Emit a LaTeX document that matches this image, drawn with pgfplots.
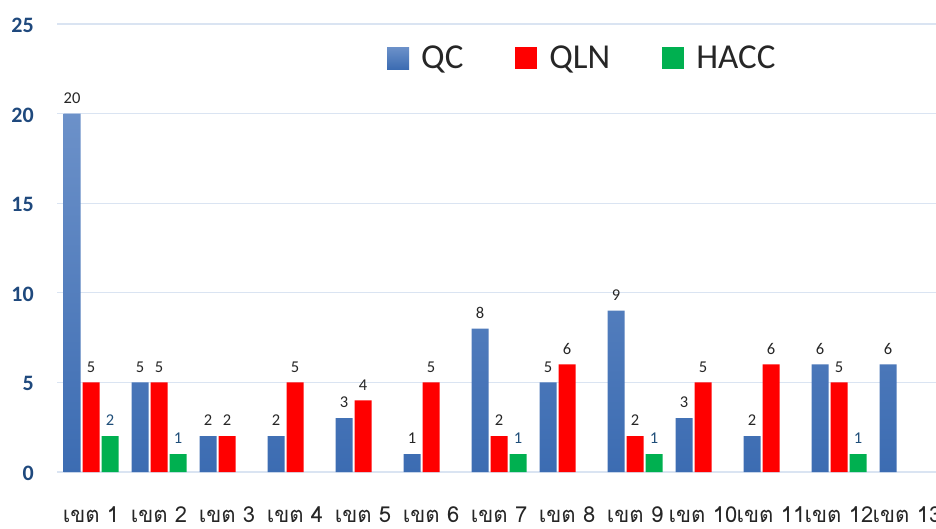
\documentclass[border=0pt]{standalone}
\usepackage{pgfplots}
\pgfplotsset{compat=1.18}
\usepackage{fontspec}
\setmainfont{Carlito}
\newfontfamily\thaifont[Script=Thai]{Loma}
\definecolor{qctop}{RGB}{108,145,201}
\definecolor{qcbot}{RGB}{60,108,178}
\definecolor{qln}{RGB}{255,0,0}
\definecolor{hacc}{RGB}{0,176,80}
\definecolor{gridc}{RGB}{218,228,242}
\definecolor{ytickc}{RGB}{31,73,125}
\definecolor{lab}{RGB}{38,38,38}
\definecolor{hlab}{RGB}{31,78,121}
\begin{document}
\begin{tikzpicture}
\useasboundingbox (0,0) rectangle (936pt,528pt);
\clip (0,0) rectangle (936pt,528pt);
\begin{axis}[
  at={(57pt,56pt)}, anchor=south west,
  scale only axis, width=884pt, height=448pt,
  xmin=-0.5, xmax=12.5, ymin=0, ymax=25,
  ybar=2pt, bar width=17pt,
  axis line style={draw=none},
  ymajorgrids, grid style={gridc, line width=1.3pt},
  major tick length=0pt,
  ytick={0,5,...,25},
  xtick={0,...,12},
  xticklabels={เขต 1,เขต 2,เขต 3,เขต 4,เขต 5,เขต 6,เขต 7,เขต 8,เขต 9,เขต 10,เขต 11,เขต 12,เขต 13},
  xticklabel style={font=\thaifont\fontsize{22}{22}\selectfont, text=lab, anchor=base, yshift=-50pt, inner sep=0pt},
  yticklabel style={font=\fontsize{22}{22}\selectfont\bfseries, text=ytickc, anchor=east, inner sep=0pt, xshift=-23pt, yshift=-1.5pt},
  /pgf/number format/assume math mode=true,
  nodes near coords,
  every node near coord/.append style={font=\fontsize{16.5}{16.5}\selectfont, text=lab, inner sep=0pt, yshift=10pt},
  legend columns=3,
  legend style={at={(axis cs:4.353,23.1)}, anchor=west, draw=none, fill=none, inner sep=0pt,
    font=\fontsize{35}{35}\selectfont, text=lab,
    /tikz/every even column/.append style={column sep=50pt},
    /tikz/every odd column/.append style={column sep=10pt},
    cells={anchor=west, inner sep=0pt}},
  legend image code/.code={\path[#1, draw=none] (0pt,-11pt) rectangle (22pt,11pt);},
]
\addplot[draw=none, top color=qctop, bottom color=qcbot] coordinates {
  (0,20) (1,5) (2,2) (3,2) (4,3) (5,1) (6,8) (7,5) (8,9) (9,3) (10,2) (11,6) (12,6)};
\addplot[draw=none, fill=qln] coordinates {
  (0,5) (1,5) (2,2) (3,5) (4,4) (5,5) (6,2) (7,6) (8,2) (9,5) (10,6) (11,5)};
\addplot[draw=none, fill=hacc, every node near coord/.append style={text=hlab}] coordinates {
  (0,2) (1,1) (6,1) (8,1) (11,1)};
\legend{QC,QLN,HACC}
\end{axis}
\end{tikzpicture}
\end{document}
